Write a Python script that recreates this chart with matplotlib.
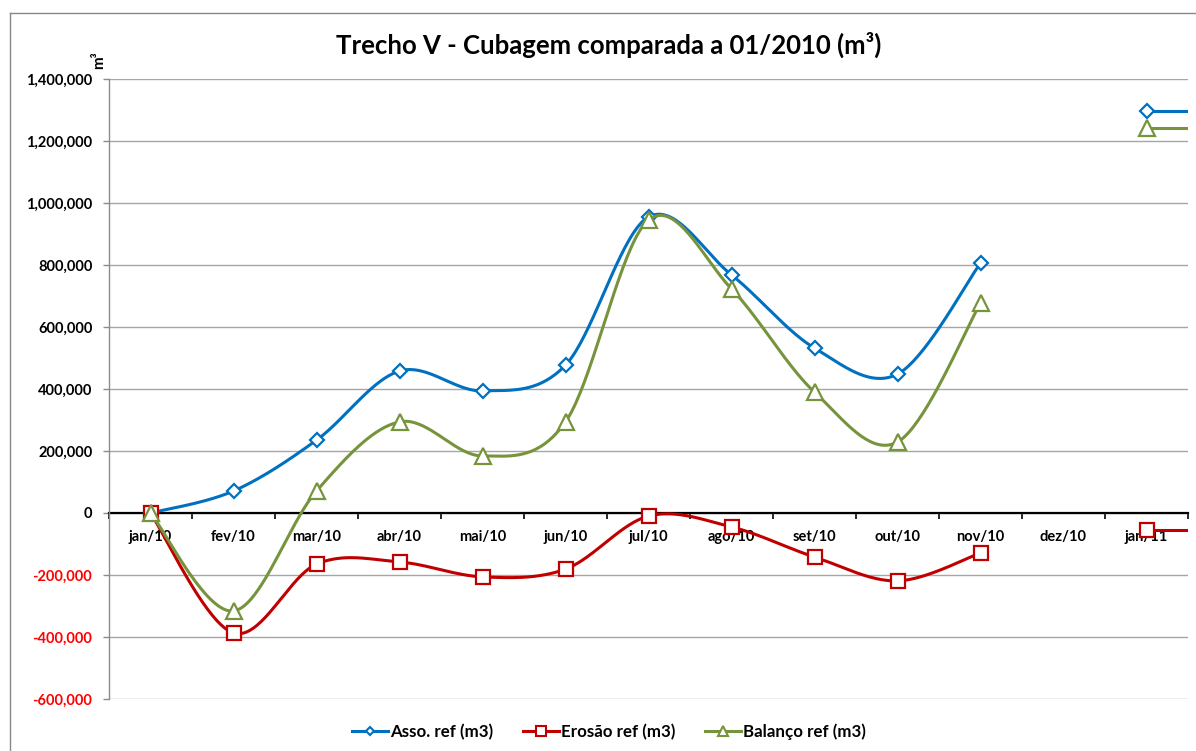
import numpy as np
import matplotlib
matplotlib.use('Agg')
import matplotlib.pyplot as plt
import matplotlib.ticker as tck
from matplotlib.lines import Line2D

plt.rcParams['font.family'] = ['Lato', 'DejaVu Sans']
plt.rcParams['font.weight'] = 'bold'

## ------------------------------- DADOS ------------------------------- ##
meses = ['jan/10', 'fev/10', 'mar/10', 'abr/10', 'mai/10', 'jun/10', 'jul/10',
         'ago/10', 'set/10', 'out/10', 'nov/10', 'dez/10', 'jan/11', 'fev/11']
# dez/10 sem medição; fev/11 fica fora da área visível (só se vê a linha a sair)
asso    = [0, 71000, 235000, 458000, 394000, 477000, 955000, 768000, 532000, 448000, 806000, np.nan, 1297000, 1297000]
erosao  = [0, -387000, -165000, -158000, -206000, -181000, -10000, -45000, -142000, -219000, -129000, np.nan, -55000, -55000]
balanco = [0, -316000, 71000, 294000, 184000, 294000, 945000, 723000, 390000, 229000, 677000, np.nan, 1242000, 1242000]

n_vis = 13  # categorias visíveis no eixo


def suaviza(xs, ys, npts=40):
    # curva de Bezier tipo Excel (Catmull-Rom), cortando nos NaN
    out_x, out_y = [], []
    xs = np.asarray(xs, float)
    ys = np.asarray(ys, float)
    ok = ~np.isnan(ys)
    blocos = []
    i = 0
    while i < len(ys):
        if ok[i]:
            j = i
            while j < len(ys) and ok[j]:
                j += 1
            blocos.append((i, j))
            i = j
        else:
            i += 1
    t = np.linspace(0, 1, npts)
    for a, b in blocos:
        px, py = xs[a:b], ys[a:b]
        m = len(px)
        if m == 1:
            continue
        seg_x, seg_y = [], []
        for k in range(m - 1):
            k0 = max(k - 1, 0)
            k3 = min(k + 2, m - 1)
            c1x = px[k] + (px[k + 1] - px[k0]) / 6.
            c1y = py[k] + (py[k + 1] - py[k0]) / 6.
            c2x = px[k + 1] - (px[k3] - px[k]) / 6.
            c2y = py[k + 1] - (py[k3] - py[k]) / 6.
            bx = (1-t)**3*px[k] + 3*(1-t)**2*t*c1x + 3*(1-t)*t**2*c2x + t**3*px[k+1]
            by = (1-t)**3*py[k] + 3*(1-t)**2*t*c1y + 3*(1-t)*t**2*c2y + t**3*py[k+1]
            seg_x.extend(bx)
            seg_y.extend(by)
        out_x.append(np.array(seg_x))
        out_y.append(np.array(seg_y))
    return out_x, out_y


fig = plt.figure(figsize=(11.96, 7.51), dpi=100)
ax = fig.add_axes([109/1196., 1 - 699/751., 1079/1196., 620/751.])

x = np.arange(len(meses))
series = [
    (asso, '#0070C0', 'D', 7, u'Asso. ref (m3)'),
    (erosao, '#C00000', 's', 10, u'Erosão ref (m3)'),
    (balanco, '#77933C', '^', 11, u'Balanço ref (m3)'),
]

handles = []
for z, (vals, cor, mk, ms, lab) in enumerate(series):
    cx, cy = suaviza(x, vals)
    for sx, sy in zip(cx, cy):
        ax.plot(sx, sy, color=cor, lw=2.2, zorder=3 + z, solid_capstyle='round')
    ax.plot(x, vals, ls='none', marker=mk, ms=ms, mfc='white', mec=cor, mew=1.6, zorder=3 + z)
    handles.append(Line2D([], [], color=cor, lw=2.2, marker=mk, ms=ms * 0.65, mfc='white', mec=cor, mew=1.5))

ax.set_xlim(-0.5, n_vis - 0.5)
ax.set_ylim(-600000, 1400000)

# eixo y
ax.yaxis.set_major_locator(tck.MultipleLocator(200000))
ax.yaxis.set_major_formatter(tck.FuncFormatter(lambda v, p: '{:,.0f}'.format(v)))
ax.tick_params(axis='y', length=4, width=1, color='#8C8C8C', pad=8, labelsize=10.5)
ax.grid(axis='y', color='#A6A6A6', lw=1, zorder=0)
ax.set_axisbelow(True)

# eixo x sobre o zero
ax.spines['top'].set_visible(False)
ax.spines['right'].set_visible(False)
ax.spines['left'].set_color('#8C8C8C')
ax.spines['left'].set_linewidth(1)
ax.spines['bottom'].set_position(('data', 0))
ax.spines['bottom'].set_color('black')
ax.spines['bottom'].set_linewidth(1.6)
ax.spines['bottom'].set_zorder(2)
ax.xaxis.set_major_locator(tck.FixedLocator(np.arange(-0.5, n_vis, 1)))
ax.xaxis.set_major_formatter(tck.NullFormatter())
ax.xaxis.set_minor_locator(tck.FixedLocator(np.arange(n_vis)))
ax.xaxis.set_minor_formatter(tck.FixedFormatter(meses[:n_vis]))
ax.tick_params(axis='x', which='major', length=4, width=1.2, color='black', direction='out')
ax.tick_params(axis='x', which='minor', length=0, pad=12, labelsize=10.5)

fig.canvas.draw()
for lbl in ax.get_yticklabels():
    if lbl.get_text().startswith('-') or lbl.get_text().startswith('\u2212'):
        lbl.set_color('#FF0000')

ax.set_title(u'Trecho V - Cubagem comparada a 01/2010 (m³)', fontsize=18.5, fontweight='bold',
             x=500/1079., y=1.0, pad=18)
fig.text(99/1196., 1 - 60/751., u'm³', rotation=90, fontsize=11, fontweight='bold',
         ha='center', va='center')

fig.legend(handles=handles, labels=[s[4] for s in series], loc='center',
           bbox_to_anchor=(609/1196., 1 - 732/751.), ncol=3, frameon=False,
           fontsize=12.2, handlelength=2.1, handletextpad=0.1, columnspacing=1.8)

# moldura do gráfico
fig.add_artist(Line2D([10/1196., 10/1196.], [0, 1 - 13/751.], transform=fig.transFigure, color='#888888', lw=1))
fig.add_artist(Line2D([10/1196., 1], [1 - 13/751., 1 - 13/751.], transform=fig.transFigure, color='#888888', lw=1))

plt.savefig('out.png', dpi=100)
